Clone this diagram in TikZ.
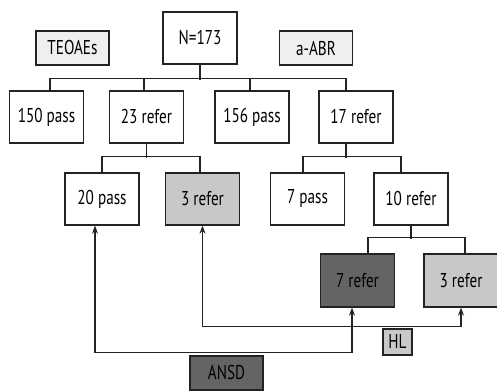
\documentclass[tikz,border=0pt]{standalone}
\usepackage{fontspec}
\setmainfont{PT Sans}[FakeStretch=0.76]
\usepackage{tikz}
\usetikzlibrary{arrows.meta, positioning, calc}
\usepackage{xcolor}
\definecolor{boxline}{RGB}{35,35,35}
\definecolor{paleGray}{RGB}{239,239,239}
\definecolor{midGray}{RGB}{200,200,200}
\definecolor{darkGray}{RGB}{100,100,100}

\begin{document}
\begin{tikzpicture}[
    x=0.75pt, y=-0.75pt,
    result/.style={rectangle, draw=boxline, fill=white, minimum width=55.5pt, minimum height=39pt, inner sep=0pt, font=\fontsize{15}{17}\selectfont, line width=1pt},
    tag/.style={result, minimum width=54.75pt, minimum height=25.5pt},
    link/.style={draw=boxline, line width=0.9pt},
    arrow/.style={link, {Stealth[length=6pt,width=4.5pt]}-{Stealth[length=6pt,width=4.5pt]}}
]
\useasboundingbox (0,0) rectangle (497,391);

% Top
\node[result] (n173) at (200,38) {N=173};
\node[tag, fill=paleGray] (teoaes) at (72.5,48) {TEOAEs};
\node[tag, fill=paleGray] (aabr) at (316,48) {a-ABR};

% First screening
\node[result] (p150) at (46.5,117) {150 pass};
\node[result] (r23) at (146.5,117) {23 refer};
\node[result] (p156) at (252,117) {156 pass};
\node[result] (r17) at (356,117) {17 refer};

% Second screening
\node[result] (p20) at (102,199) {20 pass};
\node[result, fill=midGray] (r3a) at (202.5,199) {3 refer};
\node[result] (p7) at (307.5,199) {7 pass};
\node[result] (r10) at (411,199) {10 refer};

% Third screening
\node[result, fill=darkGray, minimum height=39.75pt] (r7) at (357.5,280.5) {7 refer};
\node[result, fill=midGray, minimum height=39.75pt] (r3b) at (461,280.5) {3 refer};

% Diagnoses
\node[tag, fill=midGray, minimum width=21.75pt, minimum height=19.5pt] (hl) at (397.5,342) {HL};
\node[tag, fill=darkGray] (ansd) at (226.5,373) {ANSD};

% Tree
\draw[link] (n173.south) -- ++(0,15);
\draw[link] ($(p150.north)+(3.5,0)$) |- ($(r17.north)+(-10,-12)$) -- ($(r17.north)+(-10,0)$);
\draw[link] ($(r23.north)+(-2.5,0)$) -- ++(0,-12);
\draw[link] ($(p156.north)+(-2,0)$) -- ++(0,-12);

\draw[link] (r23.south) -- ++(0,14);
\draw[link] (p20.north) |- ($(r3a.north)+(-2.5,-16)$) -- ($(r3a.north)+(-2.5,0)$);

\draw[link] ($(r17.south)+(-10,0)$) -- ++(0,14);
\draw[link] ($(p7.north)+(-4.5,0)$) |- ($(r10.north)+(-10,-16)$) -- ($(r10.north)+(-10,0)$);

\draw[link] (r10.south) -- ++(0,13);
\draw[link] ($(r7.north)+(10.5,0)$) |- ($(r3b.north)+(4,-16)$) -- ($(r3b.north)+(4,0)$);

% Arrows
\draw[arrow] (r3a.south) |- ($(r3b.south)+(0,19)$) -- (r3b.south);
\draw[arrow] ($(p20.south)+(-7,0)$) |- ($(r7.south)+(-5.5,45)$) -- ($(r7.south)+(-5.5,0)$);
\end{tikzpicture}
\end{document}
